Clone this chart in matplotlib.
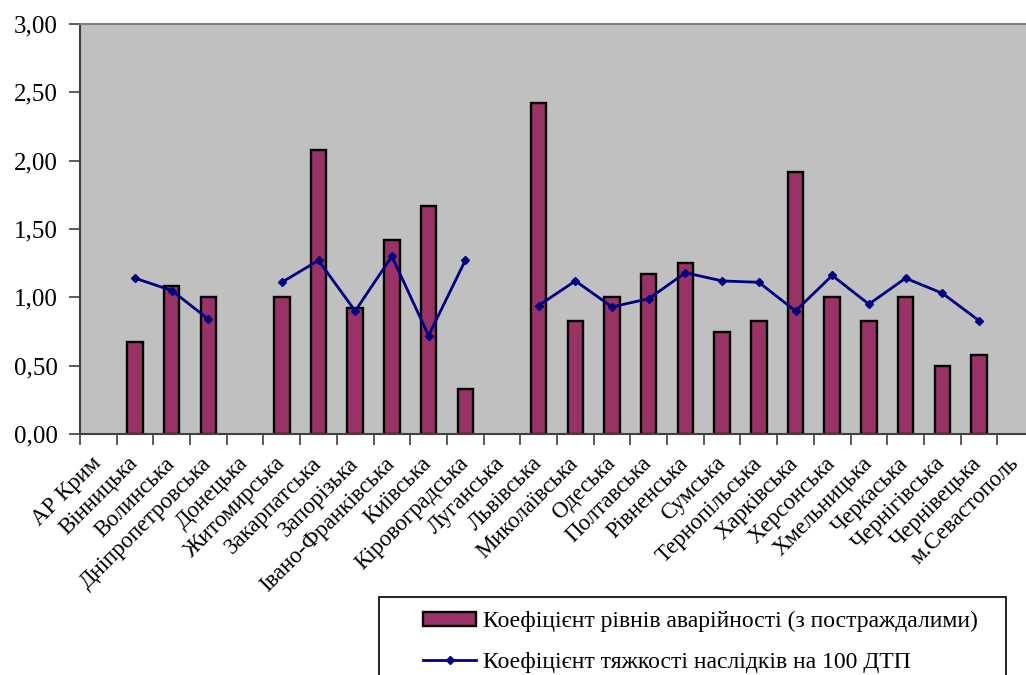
import numpy as np
import matplotlib
matplotlib.use("Agg")
import matplotlib.pyplot as plt
from matplotlib.patches import Rectangle
from matplotlib.ticker import FixedLocator, FuncFormatter

plt.rcParams["font.family"] = ["Liberation Serif", "DejaVu Serif"]

# Regions of Ukraine
regions = [
    "АР Крим", "Вінницька", "Волинська", "Дніпропетровська", "Донецька",
    "Житомирська", "Закарпатська", "Запорізька", "Івано-Франківська",
    "Київська", "Кіровоградська", "Луганська", "Львівська", "Миколаївська",
    "Одеська", "Полтавська", "Рівненська", "Сумська", "Тернопільська",
    "Харківська", "Херсонська", "Хмельницька", "Черкаська", "Чернігівська",
    "Чернівецька", "м.Севастополь",
]

# Accident level coefficient (with injured), NaN = no data
accident_level = [
    np.nan, 0.67, 1.08, 1.00, np.nan, 1.00, 2.08, 0.92, 1.42, 1.67, 0.33,
    np.nan, 2.42, 0.83, 1.00, 1.17, 1.25, 0.75, 0.83, 1.92, 1.00, 0.83,
    1.00, 0.50, 0.58, np.nan,
]

# Severity coefficient per 100 road accidents
severity = [
    np.nan, 1.14, 1.05, 0.84, np.nan, 1.11, 1.27, 0.90, 1.30, 0.72, 1.27,
    np.nan, 0.94, 1.12, 0.93, 0.99, 1.18, 1.12, 1.11, 0.90, 1.16, 0.95,
    1.14, 1.03, 0.83, np.nan,
]

bar_label = "Коефіцієнт рівнів аварійності (з постраждалими)"
line_label = "Коефіцієнт тяжкості наслідків на 100 ДТП"

W, H = 1026, 675
fig = plt.figure(figsize=(W / 100, H / 100), dpi=100)
ax = fig.add_axes([80 / W, 1 - 434 / H, 954 / W, 410 / H])
ax.set_facecolor("#c0c0c0")

x = np.arange(len(regions))
bars = ax.bar(x, accident_level, width=0.42, color="#993366",
              edgecolor="black", linewidth=1.7, label=bar_label, zorder=2)
line, = ax.plot(x, severity, color="#000080", linewidth=2.0, marker="D",
                markersize=4.5, label=line_label, zorder=3)

ax.set_xlim(-0.5, len(regions) - 0.5)
ax.set_ylim(0, 3)
ax.set_yticks(np.arange(0, 3.01, 0.5))
ax.yaxis.set_major_formatter(FuncFormatter(lambda v, p: f"{v:.2f}".replace(".", ",")))
ax.tick_params(axis="y", labelsize=18, length=8, width=1.2, direction="out",
               color="#404040", pad=8)

# tick marks between categories, labels at category centres
ax.xaxis.set_major_locator(FixedLocator(np.arange(-0.5, len(regions), 1.0)))
ax.xaxis.set_minor_locator(FixedLocator(x))
ax.set_xticklabels([])
ax.set_xticklabels(regions, minor=True, rotation=45, ha="right", va="center",
                   rotation_mode="anchor", fontsize=16.5)
ax.tick_params(axis="x", which="major", length=8, width=1.2, color="#404040")
ax.tick_params(axis="x", which="minor", length=0, pad=19)

for side in ["top", "right"]:
    ax.spines[side].set_color("#808080")
    ax.spines[side].set_linewidth(1.5)
for side in ["left", "bottom"]:
    ax.spines[side].set_color("#404040")
    ax.spines[side].set_linewidth(1.5)

# legend box
fig.patches.append(Rectangle((379 / W, -0.05), (1006 - 379) / W, 0.05 + 1 - 597 / H,
                             transform=fig.transFigure, facecolor="white",
                             edgecolor="black", linewidth=1.2))
fig.legend(handles=[bars, line], loc="upper left",
           bbox_to_anchor=(423 / W, 1 - 611 / H), frameon=False, fontsize=17,
           borderpad=0, borderaxespad=0,
           handlelength=2.25, handleheight=0.55, handletextpad=0.28,
           labelspacing=0.82)

fig.savefig("out.png", dpi=100)
